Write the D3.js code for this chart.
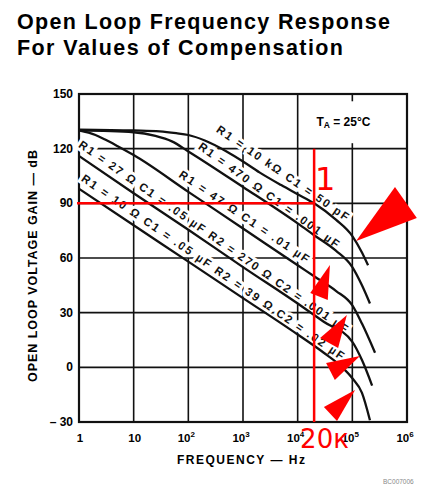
<!DOCTYPE html>
<html><head><meta charset="utf-8">
<script src="https://cdn.jsdelivr.net/npm/d3@7"></script>
<style>body{margin:0;background:#fff}svg{display:block}</style>
</head><body>
<svg id="c" width="442" height="485"></svg>
<script>
// ---- data ----
const freqTicks = [1, 10, 100, 1e3, 1e4, 1e5, 1e6];
const freqTickBase = ["1", "10", "10", "10", "10", "10", "10"];
const freqTickExp = ["", "", "2", "3", "4", "5", "6"];
const gainTicks = [150, 120, 90, 60, 30, 0, -30];
const gainTickLabels = ["150", "120", "90", "60", "30", "0", "– 30"];

const curveA = [[1,130.5],[10,130],[30,129.5],[60,128.5],[100,127.5],[200,124.5],[500,118.5],[1e3,113],[2e3,107],[5e3,100],[1e4,95],[2e4,90],[5e4,81],[1e5,72],[1.5e5,63],[1.94e5,56]];
const curveB = [[1,130],[10,129],[25,127],[50,124],[100,118.5],[1e3,99],[1e4,79],[2e4,72.5],[5e4,64],[1e5,55],[1.5e5,45],[2.1e5,35]];
const curveC = [[1,130],[2,127.5],[3,125],[5,121.5],[10,116.5],[100,96.3],[1e3,76.2],[1e4,56],[2e4,50],[5e4,42],[1e5,34],[1.5e5,24],[2.6e5,8]];
const curveD = [[1,116],[10,95.5],[100,75.5],[1e3,55],[1e4,35],[3e4,25],[1e5,14],[1.5e5,4],[2.3e5,-10]];
const curveE = [[1,98],[10,78],[100,58],[1e3,38],[1e4,18],[3e4,8],[6e4,1],[1e5,-6],[1.5e5,-14],[2.1e5,-29]];

const labelTexts = ["R1 = 10 kΩ C1 = 50 pF", "R1 = 470 Ω C1 = .001 µF", "R1 = 47 Ω C1 = .01 µF",
  "R1 = 27 Ω C1 = .05 µF R2 = 270 Ω C2 = .001 µF", "R1 = 10 Ω C1 = .05 µF R2 = 39 Ω C2 = .02 µF"];
// label start / end anchors in data units [freq, gain]
const labelStart = [[347,131.3],[162,122],[71,106.6],[1.05,123],[1.17,104.4]];
const labelEnd = [[83000,82],[55000,67.1],[15500,58.9],[79000,20.5],[67600,5.7]];

const markFreq = 2e4, markGain = 90;
// red arrow triangles, vertices in [log10 f, gain]
const arrows = [
  [[5.78,99.0],[6.18,81.9],[5.07,69.3]],
  [[4.59,56.1],[4.55,36.9],[4.23,40.8]],
  [[4.90,28.7],[4.74,10.6],[4.41,16.1]],
  [[5.14,6.2],[4.68,-7.0],[4.52,2.4]],
  [[5.05,-12.5],[4.72,-29.5],[4.48,-21.8]]
];

// ---- drawing ----
const svg = d3.select("#c");
const x = d3.scaleLog().domain([1, 1e6]).range([79, 407]);
const y = d3.scaleLinear().domain([-30, 150]).range([422, 94]);
const FONT = "'Liberation Sans', Arial, Helvetica, sans-serif";

// title
svg.append("text").attr("x", 17).attr("y", 29).attr("font-family", FONT).attr("font-weight", "bold")
  .attr("font-size", 21.5).attr("textLength", 373).attr("lengthAdjust", "spacing")
  .text("Open Loop Frequency Response");
svg.append("text").attr("x", 17).attr("y", 55).attr("font-family", FONT).attr("font-weight", "bold")
  .attr("font-size", 21.5).attr("textLength", 326).attr("lengthAdjust", "spacing")
  .text("For Values of Compensation");

// grid
const g = svg.append("g");
g.selectAll(".vg").data(freqTicks).join("line")
  .attr("x1", d => x(d)).attr("x2", d => x(d)).attr("y1", y(150)).attr("y2", y(-30))
  .attr("stroke", "#111").attr("stroke-width", 1.6);
g.selectAll(".hg").data(gainTicks).join("line")
  .attr("x1", x(1)).attr("x2", x(1e6)).attr("y1", d => y(d)).attr("y2", d => y(d))
  .attr("stroke", "#111").attr("stroke-width", 1.6);

// T_A box
svg.append("rect").attr("x", x(1.3e4)).attr("y", y(146)).attr("width", x(8e5) - x(1.3e4))
  .attr("height", y(123) - y(146)).attr("fill", "#fff");
const ta = svg.append("text").attr("x", x(2.2e4)).attr("y", y(134.5) + 4).attr("font-family", FONT)
  .attr("font-weight", "bold").attr("font-size", 12);
ta.append("tspan").text("T");
ta.append("tspan").attr("font-size", 8.5).attr("dy", 2).text("A");
ta.append("tspan").attr("dy", -2).text(" = 25°C");

// frame
svg.append("rect").attr("x", x(1)).attr("y", y(150)).attr("width", x(1e6) - x(1)).attr("height", y(-30) - y(150))
  .attr("fill", "none").attr("stroke", "#111").attr("stroke-width", 2.2);

// curve labels (white halo breaks the grid)
labelTexts.forEach((t, i) => {
  const x0 = x(labelStart[i][0]), y0 = y(labelStart[i][1]);
  const x1 = x(labelEnd[i][0]), y1 = y(labelEnd[i][1]);
  const ang = Math.atan2(y1 - y0, x1 - x0) * 180 / Math.PI;
  const len = Math.hypot(x1 - x0, y1 - y0);
  svg.append("text").attr("x", x0).attr("y", y0).attr("dominant-baseline", "central")
    .attr("transform", `rotate(${ang},${x0},${y0})`)
    .attr("font-family", FONT).attr("font-weight", "bold").attr("font-size", 11.5)
    .attr("textLength", len).attr("lengthAdjust", "spacing")
    .attr("stroke", "#fff").attr("stroke-width", 6).attr("paint-order", "stroke")
    .attr("fill", "#111").text(t);
});

// curves
const line = d3.line().x(d => x(d[0])).y(d => y(d[1])).curve(d3.curveMonotoneX);
[curveA, curveB, curveC, curveD, curveE].forEach(c => {
  svg.append("path").attr("d", line(c)).attr("fill", "none").attr("stroke", "#111").attr("stroke-width", 2.3);
});

// tick labels
svg.selectAll(".yl").data(gainTicks).join("text")
  .attr("x", 73).attr("y", d => y(d)).attr("dominant-baseline", "central").attr("text-anchor", "end")
  .attr("font-family", FONT).attr("font-weight", "bold").attr("font-size", 12)
  .text((d, i) => gainTickLabels[i]);
freqTicks.forEach((f, i) => {
  const t = svg.append("text").attr("x", x(f) + (freqTickExp[i] ? -2 : 1)).attr("y", y(-30) + 20)
    .attr("text-anchor", "middle").attr("font-family", FONT).attr("font-weight", "bold").attr("font-size", 11.5);
  t.append("tspan").text(freqTickBase[i]);
  if (freqTickExp[i]) t.append("tspan").attr("dy", -5).attr("font-size", 8).text(freqTickExp[i]);
});

// axis titles
svg.append("text").attr("x", 241).attr("y", 464).attr("text-anchor", "middle")
  .attr("font-family", FONT).attr("font-weight", "bold").attr("font-size", 12)
  .attr("textLength", 128).attr("lengthAdjust", "spacing").text("FREQUENCY — Hz");
svg.append("text").attr("transform", "translate(37,266) rotate(-90)").attr("text-anchor", "middle")
  .attr("font-family", FONT).attr("font-weight", "bold").attr("font-size", 12.5)
  .attr("textLength", 232).attr("lengthAdjust", "spacing").text("OPEN LOOP VOLTAGE GAIN — dB");
svg.append("text").attr("x", 383).attr("y", 484).attr("font-family", FONT).attr("font-size", 6.5)
  .attr("fill", "#888").text("BC007006");

// red annotations
const red = "#ff0000";
svg.append("line").attr("x1", x(1) - 2).attr("x2", x(markFreq)).attr("y1", y(markGain)).attr("y2", y(markGain))
  .attr("stroke", red).attr("stroke-width", 2.5);
svg.append("line").attr("x1", x(markFreq)).attr("x2", x(markFreq)).attr("y1", y(120)).attr("y2", y(-30))
  .attr("stroke", red).attr("stroke-width", 2.5);
svg.append("text").attr("x", x(markFreq) + 1).attr("y", y(97.3)).attr("font-family", "'DejaVu Sans', sans-serif")
  .attr("font-size", 32).attr("fill", red).text("1");
svg.append("text").attr("x", x(markFreq) - 14).attr("y", y(-30) + 26).attr("font-family", "'DejaVu Sans', sans-serif")
  .attr("font-size", 26).attr("fill", red).text("20к");
svg.selectAll(".arr").data(arrows).join("polygon")
  .attr("points", d => d.map(p => [x(Math.pow(10, p[0])), y(p[1])].join(",")).join(" "))
  .attr("fill", red);
</script>
</body></html>
